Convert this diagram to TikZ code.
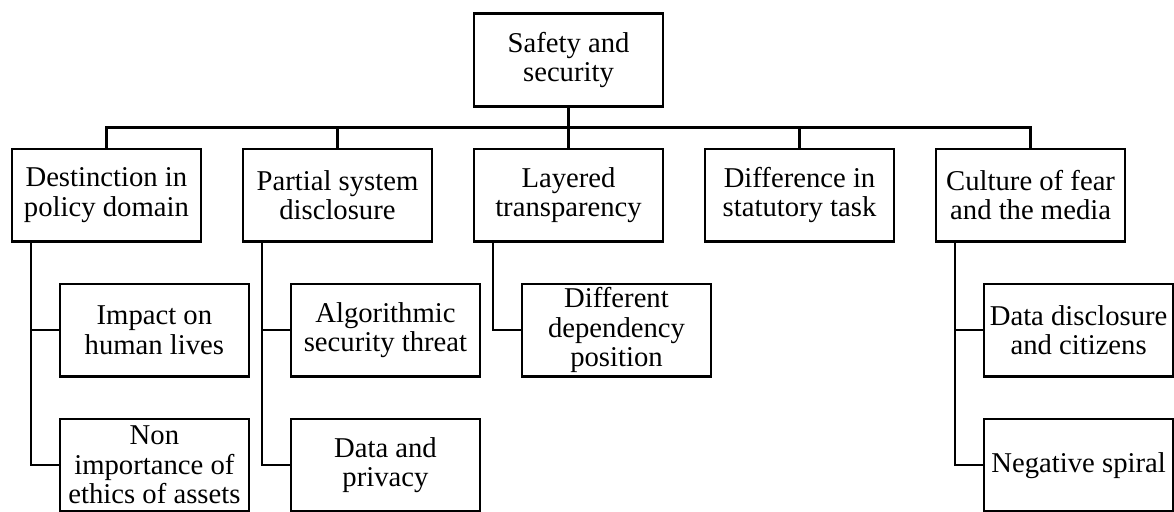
\documentclass[tikz,border=0pt]{standalone}
\usepackage{fontspec}
\setmainfont{Liberation Serif}
\usetikzlibrary{positioning}

\begin{document}
\begin{tikzpicture}[line width=1.6pt, every node/.style={font=\fontsize{20.4}{21}\selectfont},
    box/.style={draw, align=center, inner sep=2pt, minimum width=4.72cm, minimum height=2.32cm}]
        \useasboundingbox (0,0) rectangle (29.35,-12.8);
        % top level
        \node[box] (root) at (14.2125,-1.5) {Safety and\\security};
        % second level
        \node[box, below=1cm of root] (lay) {Layered\\transparency};
        \node[box, left=1cm of lay] (psd) {Partial system\\disclosure};
        \node[box, left=1cm of psd] (pol) {Destinction in\\policy domain};
        \node[box, right=1cm of lay] (dif) {Difference in\\statutory task};
        \node[box, right=1cm of dif] (cul) {Culture of fear\\and the media};
        % third level
        \node[box, below=1cm of pol, xshift=1.2cm] (imp) {Impact on\\human lives};
        \node[box, below=1cm of imp] (eth) {Non\\importance of\\ethics of assets};
        \node[box, below=1cm of psd, xshift=1.2cm] (alg) {Algorithmic\\security threat};
        \node[box, below=1cm of alg] (dat) {Data and\\privacy};
        \node[box, below=1cm of lay, xshift=1.2cm] (dep) {Different\\dependency\\position};
        \node[box, below=1cm of cul, xshift=1.2cm] (cit) {Data disclosure\\and citizens};
        \node[box, below=1cm of cit] (neg) {Negative spiral};
        % bus under the root
        \draw (root.south) -- (lay.north);
        \draw (pol.north) -- ++(0,0.5) -| (cul.north);
        \draw (psd.north) -- ++(0,0.5);
        \draw (dif.north) -- ++(0,0.5);
        % branches down the left side
        \draw ([xshift=0.5cm]pol.south west) |- (imp.west);
        \draw ([xshift=0.5cm]pol.south west) |- (eth.west);
        \draw ([xshift=0.5cm]psd.south west) |- (alg.west);
        \draw ([xshift=0.5cm]psd.south west) |- (dat.west);
        \draw ([xshift=0.5cm]lay.south west) |- (dep.west);
        \draw ([xshift=0.5cm]cul.south west) |- (cit.west);
        \draw ([xshift=0.5cm]cul.south west) |- (neg.west);
      \end{tikzpicture}
\end{document}
